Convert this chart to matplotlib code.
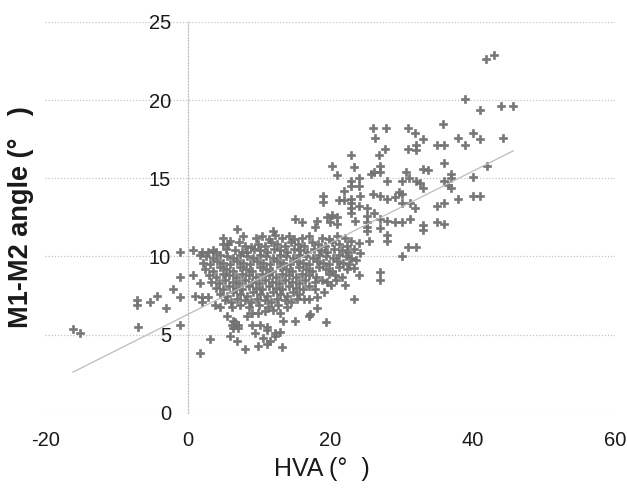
"""Scatter of M1-M2 angle vs HVA with a least-squares trend line."""

import matplotlib
matplotlib.use("Agg")
import matplotlib.pyplot as plt

# (HVA, M1-M2 angle) pairs, grouped by region of the cloud
far_left = [(-16.1, 5.35), (-15.1, 5.1), (-7.1, 7.2), (-7.1, 6.9), (-7.0, 5.5),
            (-5.3, 7.1), (-4.3, 7.5), (-3.0, 6.7), (-2.1, 7.9), (-1.1, 8.7),
            (-1.1, 7.4), (-1.1, 5.6), (-1.1, 10.3), (0.8, 10.4), (0.8, 8.8),
            (1.8, 10.1), (1.8, 8.3), (2.0, 7.4), (2.0, 7.1), (3.1, 4.7), (1.8, 3.8),
            (1.05, 7.5), (2.9, 7.4), (3.9, 6.9), (4.6, 6.8)]

lower_tail = [(6.0, 4.9), (7.0, 4.6), (8.1, 4.1), (9.9, 4.3), (11.1, 4.4), (11.6, 4.6),
              (12.2, 4.9), (13.2, 4.2), (13.0, 5.2), (11.1, 5.3), (10.2, 5.6), (9.5, 5.1),
              (10.6, 4.8), (13.4, 5.9), (15.1, 5.9), (17.2, 6.3), (5.5, 6.2), (6.4, 5.9),
              (7.1, 5.6), (7.1, 5.4), (6.4, 5.4), (6.2, 5.6), (6.7, 5.8), (8.3, 6.2),
              (9.0, 5.6), (11.1, 5.5), (12.3, 5.1), (9.0, 6.4), (9.9, 6.4), (10.9, 6.5),
              (12.0, 6.6), (13.0, 6.4), (18.1, 6.7), (17.1, 6.2), (19.4, 5.8)]

core = [
    (9.6, 11.2), (10.5, 11.3), (11.4, 11.1), (13.3, 11.2), (14.2, 11.3), (15.0, 11.1),
    (16.0, 11.2), (17.0, 11.3), (18.9, 11.2), (19.8, 11.1), (21.0, 11.3), (22.1, 11.2),
    (5.6, 10.8), (7.2, 10.9), (8.0, 10.7), (9.9, 10.8), (10.8, 10.7), (11.7, 10.9),
    (12.6, 10.8), (13.6, 10.7), (14.5, 10.9), (15.5, 10.8), (16.4, 10.7), (17.5, 10.9),
    (18.3, 10.8), (19.3, 10.7), (20.3, 10.9), (21.2, 10.8), (22.4, 10.7), (23.0, 11.0),
    (3.5, 10.4), (5.4, 10.5), (6.6, 10.4), (8.3, 10.3), (9.3, 10.5), (10.2, 10.4),
    (11.1, 10.3), (12.1, 10.5), (13.0, 10.4), (13.9, 10.3), (14.9, 10.5), (15.8, 10.4),
    (16.8, 10.3), (17.8, 10.5), (18.7, 10.4), (19.6, 10.3), (20.6, 10.5), (21.6, 10.4),
    (22.5, 10.3), (23.4, 10.5),
    (2.6, 10.0), (3.6, 9.9), (4.5, 10.1), (5.5, 10.0), (6.4, 9.9), (7.3, 10.1),
    (8.3, 10.0), (9.2, 9.9), (10.1, 10.1), (11.0, 10.0), (12.0, 9.9), (12.9, 10.1),
    (13.8, 10.0), (14.8, 9.9), (15.7, 10.1), (16.6, 10.0), (17.6, 9.9), (18.5, 10.1),
    (19.4, 10.0), (20.4, 9.9), (21.3, 10.1), (22.2, 10.0), (23.0, 9.9),
    (2.2, 9.6), (3.1, 9.5), (4.1, 9.7), (5.0, 9.6), (5.9, 9.5), (6.9, 9.7),
    (7.8, 9.6), (8.7, 9.5), (9.7, 9.7), (10.6, 9.6), (11.5, 9.5), (12.5, 9.7),
    (13.4, 9.6), (14.3, 9.5), (15.3, 9.7), (16.2, 9.6), (17.1, 9.5), (18.1, 9.7),
    (19.0, 9.6), (19.9, 9.5), (20.9, 9.7), (21.8, 9.6), (22.7, 9.5),
    (2.4, 9.2), (3.5, 9.1), (4.5, 9.3), (5.4, 9.2), (6.3, 9.1), (7.3, 9.3),
    (8.2, 9.2), (9.1, 9.1), (10.1, 9.3), (11.0, 9.2), (11.9, 9.1), (12.9, 9.3),
    (13.8, 9.2), (14.7, 9.1), (15.7, 9.3), (16.6, 9.2), (17.5, 9.1), (18.5, 9.3),
    (19.4, 9.2), (20.3, 9.1), (21.3, 9.3), (22.3, 9.2),
    (3.0, 8.8), (4.0, 8.7), (4.9, 8.9), (5.8, 8.8), (6.8, 8.7), (7.7, 8.9),
    (8.6, 8.8), (9.6, 8.7), (10.5, 8.9), (11.4, 8.8), (12.4, 8.7), (13.3, 8.9),
    (14.2, 8.8), (15.2, 8.7), (16.1, 8.9), (17.0, 8.8), (18.0, 8.7), (19.8, 8.9),
    (20.7, 8.8), (21.7, 8.7),
    (3.3, 8.4), (4.4, 8.3), (5.3, 8.5), (6.3, 8.4), (7.2, 8.3), (8.1, 8.5),
    (9.1, 8.4), (10.0, 8.3), (10.9, 8.5), (11.9, 8.4), (12.8, 8.3), (13.7, 8.5),
    (14.7, 8.4), (15.6, 8.3), (16.5, 8.5), (19.6, 8.4), (20.8, 8.5),
    (4.0, 8.0), (4.9, 7.9), (5.8, 8.1), (6.8, 8.0), (7.7, 7.9), (8.6, 8.1),
    (9.6, 8.0), (10.5, 7.9), (11.4, 8.1), (12.4, 8.0), (13.3, 7.9), (14.2, 8.1),
    (15.2, 8.0), (16.2, 7.9), (17.0, 8.1),
    (4.6, 7.6), (5.5, 7.5), (6.4, 7.7), (7.3, 7.6), (8.3, 7.5), (9.2, 7.7),
    (10.1, 7.6), (11.1, 7.5), (12.0, 7.7), (12.9, 7.6), (13.9, 7.5), (14.8, 7.7),
    (15.7, 7.6),
    (5.2, 7.2), (6.1, 7.1), (7.0, 7.3), (8.0, 7.2), (8.9, 7.1), (9.8, 7.3),
    (10.8, 7.2), (11.7, 7.1), (12.6, 7.3), (13.6, 7.2), (14.5, 7.1), (15.4, 7.3),
    (6.2, 6.8), (7.4, 6.9), (8.6, 6.8), (10.0, 6.9), (11.3, 6.8), (12.7, 6.9), (14.0, 6.8),
    (6.9, 11.75), (7.8, 11.3), (4.9, 11.2), (6.0, 11.0), (4.9, 10.8), (12.3, 11.4),
    (8.9, 10.6), (2.0, 10.3), (2.9, 10.3), (4.0, 10.3), (7.7, 10.3),
    (19.2, 7.7), (18.1, 7.4), (17.1, 7.3), (16.3, 7.3), (17.9, 7.9), (18.8, 8.5), (17.9, 8.4),
    (20.1, 8.2), (22.1, 8.2), (23.3, 7.3), (24.0, 8.8), (23.3, 9.25), (23.7, 9.8),
    (24.2, 10.2), (24.0, 10.85), (12.0, 11.65),
]

upper_spread = [
    (41.9, 22.6), (43.0, 22.9), (39.0, 20.1), (41.1, 19.4), (44.0, 19.6), (45.7, 19.6),
    (35.9, 18.5), (26.0, 18.2), (27.8, 18.2), (31.0, 18.2), (31.9, 17.9), (26.3, 17.6),
    (33.0, 17.5), (38.0, 17.6), (40.0, 17.9), (41.1, 17.5), (44.2, 17.6),
    (27.7, 16.9), (31.0, 16.9), (32.1, 17.1), (32.0, 16.8), (35.0, 17.1), (36.0, 17.1),
    (38.9, 17.1), (26.9, 16.5), (22.9, 16.5), (20.3, 15.8), (23.3, 15.7), (27.0, 15.8),
    (27.0, 15.4), (33.0, 15.6), (33.8, 15.5), (36.0, 16.0), (42.0, 15.8),
    (21.0, 15.2), (25.8, 15.3), (26.2, 15.4), (30.6, 15.4), (37.0, 15.3), (37.0, 15.0),
    (24.0, 15.0), (28.0, 14.8), (30.1, 14.8), (31.1, 15.0), (32.1, 14.8), (32.6, 14.7),
    (33.0, 14.4), (36.0, 14.8), (36.6, 14.6), (36.9, 14.4), (40.0, 15.1),
    (22.9, 14.8), (23.0, 14.5), (24.0, 14.5), (22.0, 14.2), (24.2, 13.9),
    (26.0, 14.0), (27.0, 13.9), (28.0, 13.7), (29.1, 13.8), (29.6, 14.1), (30.1, 14.0),
    (19.0, 13.9), (19.0, 13.5), (21.3, 13.6), (22.0, 13.6), (23.0, 13.7), (23.0, 13.4),
    (30.1, 13.4), (31.2, 13.4), (31.9, 13.1), (38.0, 13.7), (40.0, 13.9), (41.1, 13.9),
    (35.0, 13.2), (36.0, 13.4), (23.0, 13.1), (24.0, 13.2), (25.2, 13.1), (26.2, 12.8),
    (23.5, 12.3), (25.2, 12.6), (25.2, 12.2), (25.2, 11.9), (25.2, 11.6), (27.0, 12.4),
    (28.0, 12.3), (29.1, 12.2), (30.1, 12.2), (31.2, 12.4), (33.1, 12.0), (33.1, 11.7),
    (35.0, 12.2), (36.0, 12.1), (27.0, 11.8), (28.0, 11.4), (28.0, 11.0), (31.0, 10.6),
    (32.1, 10.6), (25.4, 11.0), (30.1, 10.0), (27.0, 9.0), (27.0, 8.5),
    (23.0, 12.8), (15.1, 12.4), (16.0, 12.2), (18.1, 12.3), (17.9, 11.9), (19.5, 12.55),
    (20.2, 12.65), (20.9, 12.55), (20.0, 12.2), (20.9, 12.1),
]

# trend line: angle = intercept + slope * HVA
fit_intercept = 6.29
fit_slope = 0.229

x_ticks = [-20, 0, 20, 40, 60]
y_ticks = [0, 5, 10, 15, 20, 25]

points = far_left + lower_tail + core + upper_spread
hva = [p[0] for p in points]
angle = [p[1] for p in points]

plt.rcParams["font.family"] = ["Liberation Sans", "DejaVu Sans"]
plt.rcParams["axes.unicode_minus"] = False

fig = plt.figure(figsize=(6.27, 4.88), dpi=100)
ax = fig.add_axes([0.072, 0.154, 0.909, 0.801])

ax.set_axisbelow(True)
ax.yaxis.grid(True, linestyle=(0, (1, 1.5)), color="#c4c4c4", linewidth=0.9)

ax.scatter(hva, angle, marker="P", s=34, color="#767676", edgecolors="#6a6a6a",
           linewidths=0.4, zorder=3)

# the trend line sits on top of the cloud, as in the original
line_x = [min(hva), max(hva)]
line_y = [fit_intercept + fit_slope * v for v in line_x]
ax.plot(line_x, line_y, color="#bcbcbc", linewidth=0.9, zorder=4)

ax.set_xlim(-20, 60)
ax.set_ylim(0, 25)
ax.set_xticks(x_ticks)
ax.set_yticks(y_ticks)

for side in ("top", "right", "bottom"):
    ax.spines[side].set_visible(False)
ax.spines["left"].set_position(("data", 0))
ax.spines["left"].set_color("#c4c4c4")
ax.spines["left"].set_linestyle((0, (1, 1.5)))
ax.spines["left"].set_linewidth(0.9)

ax.tick_params(axis="both", length=0, labelsize=14.5, colors="#1a1a1a")
ax.tick_params(axis="y", pad=12)
ax.tick_params(axis="x", pad=13)

ax.set_ylabel("M1-M2 angle (°   )", fontsize=19.5, fontweight="bold", color="#1a1a1a")
ax.yaxis.set_label_coords(-0.02, 0.5)
ax.set_xlabel("HVA (°  )", fontsize=18, color="#1a1a1a")
ax.xaxis.set_label_coords(0.486, -0.112)

fig.savefig("out.png", dpi=100)
plt.close(fig)
